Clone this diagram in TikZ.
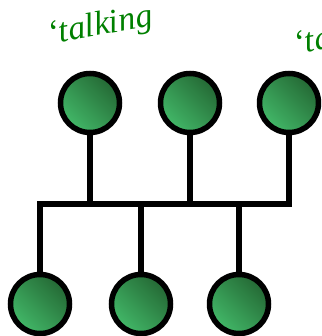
\documentclass[tikz,border=0pt]{standalone}
\usepackage{fontspec}
\setmainfont{Liberation Serif}
\definecolor{hostdark}{RGB}{36,104,52}
\definecolor{hostlight}{RGB}{66,184,104}
\definecolor{ink}{RGB}{0,128,0}
\begin{document}
\begin{tikzpicture}[x=1pt,y=1pt,
  host/.style={circle,draw=black,line width=5.5pt,minimum size=59pt,inner sep=0pt,
    top color=hostdark,bottom color=hostlight,shading angle=-45},
  wire/.style={draw=black,line width=5.5pt},
  note/.style={text=ink,font=\fontsize{34}{34}\selectfont\itshape,inner sep=0pt,anchor=west}]
\useasboundingbox (0,0) rectangle (321,336);
\clip (0,0) rectangle (321,336);
% bus
\coordinate (busL) at (40,132);
\coordinate (busR) at (289,132);
% top row
\node[host] (t1) at (90,233) {};
\node[host] (t2) at (190,233) {};
\node[host] (t3) at (289,233) {};
% bottom row
\node[host] (b1) at (40,32) {};
\node[host] (b2) at (141,32) {};
\node[host] (b3) at (239,32) {};
\draw[wire] (t1.south) -- (t1.south |- busL);
\draw[wire] (t2.south) -- (t2.south |- busL);
\draw[wire,line join=miter] (t3.south) -- (busR) -- (busL) -- (b1.north);
\draw[wire] (b2.north |- busL) -- (b2.north);
\draw[wire] (b3.north |- busL) -- (b3.north);
% handwritten notes
\node[note,rotate=10] (n1) at (48,300) {`talking};
\node[note,rotate=10] (n2) at (294,290) {`talking};
\end{tikzpicture}
\end{document}
